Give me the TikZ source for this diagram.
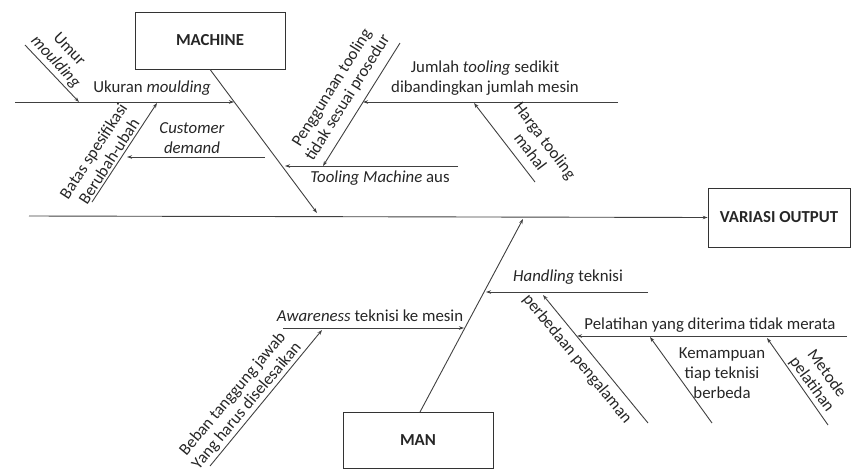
\documentclass[tikz,border=0pt]{standalone}
\usepackage{fontspec}
\setmainfont{Carlito}
\usetikzlibrary{arrows.meta}
\begin{document}
\begin{tikzpicture}[x=1pt,y=-1pt,
  txt/.style={font=\fontsize{16.8}{20}\selectfont, text=black!85, inner sep=0pt, align=center},
  rtxt/.style={txt, font=\fontsize{16.8}{18.5}\selectfont},
  box/.style={draw=black!80, line width=0.8pt, font=\fontsize{16.8}{20}\selectfont\bfseries, text=black!85, inner sep=0pt},
  bone/.style={draw=black!75, line width=0.9pt},
  arr/.style={bone, -{Stealth[length=5pt,width=3.5pt]}}]
\useasboundingbox (0,0) rectangle (851,472);
% boxes
\node[box, minimum width=150pt, minimum height=57pt] (machine) at (210,40.5) {MACHINE};
\node[box, minimum width=150pt, minimum height=56pt] (man) at (418,440) {MAN};
\node[box, minimum width=142pt, minimum height=59pt] (out) at (779,217.5) {VARIASI OUTPUT};
% coordinates
\coordinate (sp0) at (29,216);
\coordinate (m2) at (317,213);
\coordinate (u0) at (15,102); \coordinate (u1) at (234,102);
\coordinate (um0) at (25,45); \coordinate (um1) at (79,102);
\coordinate (c0) at (265,157); \coordinate (c1) at (127,157);
\coordinate (b0) at (92,202); \coordinate (b1) at (157,103);
\coordinate (p0) at (400,43); \coordinate (p1) at (323,166);
\coordinate (t0) at (458,166); \coordinate (t1) at (285,166);
\coordinate (j0) at (618,102); \coordinate (j1) at (363,102);
\coordinate (h0) at (535,182); \coordinate (h1) at (474,103);
\coordinate (n0) at (420,412); \coordinate (n1) at (523,219);
\coordinate (a0) at (283,328); \coordinate (a1) at (464,328);
\coordinate (be0) at (210,466); \coordinate (be1) at (322,330);
\coordinate (hd0) at (648,292); \coordinate (hd1) at (486,292);
\coordinate (pe0) at (648,423); \coordinate (pe1) at (543,295);
\coordinate (pl0) at (847,336); \coordinate (pl1) at (577,336);
\coordinate (k0) at (712,423); \coordinate (k1) at (650,337);
\coordinate (me0) at (828,425); \coordinate (me1) at (767,338);
% spine and bones
\draw[arr] (sp0) -- (out.west);
\draw[arr] (machine.south) -- (m2);
\draw[arr] (n0) -- (n1);
\draw[arr] (u0) -- (u1);
\draw[arr] (um0) -- (um1);
\draw[arr] (c0) -- (c1);
\draw[arr] (b0) -- (b1);
\draw[arr] (p0) -- (p1);
\draw[arr] (t0) -- (t1);
\draw[arr] (j0) -- (j1);
\draw[arr] (h0) -- (h1);
\draw[arr] (a0) -- (a1);
\draw[arr] (be0) -- (be1);
\draw[arr] (hd0) -- (hd1);
\draw[arr] (pe0) -- (pe1);
\draw[arr] (pl0) -- (pl1);
\draw[arr] (k0) -- (k1);
\draw[arr] (me0) -- (me1);
% labels
\node[txt] (lu) at (152,88) {Ukuran \textit{moulding}};
\node[rtxt, rotate=-47] (lum) at (62,56) {Umur\\\textit{moulding}};
\node[txt] (lc) at (192,138) {\textit{Customer}\\\textit{demand}};
\node[rtxt, rotate=57] (lb) at (101,156) {Batas spesifikasi\\Berubah-ubah};
\node[rtxt, rotate=58] (lp) at (340,93) {Penggunaan tooling\\tidak sesuai prosedur};
\node[txt] (lt) at (380,178) {\textit{Tooling Machine} aus};
\node[txt] (lj) at (485,78) {Jumlah \textit{tooling} sedikit\\dibandingkan jumlah mesin};
\node[rtxt, rotate=-53] (lh) at (538,146) {Harga tooling\\mahal};
\node[txt] (la) at (370,316) {\textit{Awareness} teknisi ke mesin};
\node[rtxt, rotate=50] (lbe) at (240,400) {Beban tanggung jawab\\Yang harus diselesaikan};
\node[txt] (lhd) at (568,277) {\textit{Handling} teknisi};
\node[rtxt, rotate=-50.6] (lpe) at (577,359) {perbedaan pengalaman};
\node[txt] (lpl) at (710,325) {Pelatihan yang diterima tidak merata};
\node[txt] (lk) at (722,373) {Kemampuan\\tiap teknisi\\berbeda};
\node[rtxt, rotate=-54] (lme) at (819,379) {Metode\\pelatihan};
\end{tikzpicture}
\end{document}
